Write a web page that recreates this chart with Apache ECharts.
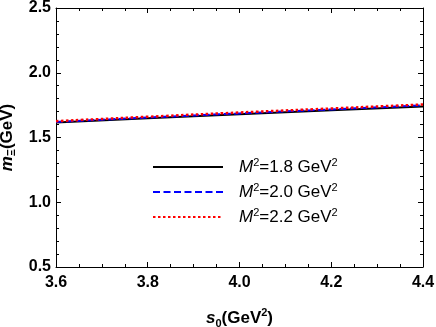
<!DOCTYPE html>
<html>
<head>
<meta charset="utf-8">
<script src="https://cdn.jsdelivr.net/npm/echarts@6/dist/echarts.min.js"></script>
<style>
html, body { margin: 0; padding: 0; background: #fff; }
#chart { width: 436px; height: 327px; }
</style>
</head>
<body>
<div id="chart"></div>
<script>
// s0 values (GeV^2)
const s0 = [3.6, 3.8, 4.0, 4.2, 4.4]
// m_Xi for each Borel mass
const m18 = [1.615, 1.648, 1.679, 1.710, 1.740]
const m20 = [1.620, 1.654, 1.686, 1.717, 1.748]
const m22 = [1.626, 1.660, 1.693, 1.724, 1.755]
const names = ['M2=1.8', 'M2=2.0', 'M2=2.2']
const labels = ['1.8', '2.0', '2.2']

const font = "'Liberation Sans', Arial, sans-serif"

function pairs (ys) {
  return s0.map((x, i) => [x, ys[i]])
}

const tickStyle = { inside: true, length: 5, lineStyle: { color: '#000', width: 1 } }
const minorStyle = { show: true, length: 3, lineStyle: { color: '#000', width: 1 } }

// rich styles for bold axis names
const nameRich = {
  i: { fontSize: 17, fontWeight: 'bold', fontStyle: 'italic', fontFamily: font, color: '#000', lineHeight: 22 },
  n: { fontSize: 17, fontWeight: 'bold', fontFamily: font, color: '#000', lineHeight: 22 },
  sub: { fontSize: 11, fontWeight: 'bold', fontFamily: font, color: '#000', lineHeight: 12, verticalAlign: 'bottom' },
  sup: { fontSize: 11, fontWeight: 'bold', fontFamily: font, color: '#000', lineHeight: 12, verticalAlign: 'top' }
}

let option = {
  animation: false,
  grid: { left: 56, right: 13, top: 8, bottom: 60, outerBoundsMode: 'none', containLabel: false },
  xAxis: [{
    type: 'value',
    min: 3.6,
    max: 4.4,
    interval: 0.2,
    axisLine: { lineStyle: { color: '#000', width: 1 } },
    axisTick: tickStyle,
    minorTick: Object.assign({ splitNumber: 4 }, minorStyle),
    splitLine: { show: false },
    axisLabel: {
      color: '#000', fontSize: 16, fontWeight: 'bold', fontFamily: font, margin: 8,
      formatter: v => v.toFixed(1)
    },
    name: '{i|s}{sub|0}{n|(GeV}{sup|2}{n|)}',
    nameLocation: 'middle',
    nameGap: 40,
    nameTextStyle: { rich: nameRich }
  }, {
    type: 'value',
    position: 'top',
    min: 3.6,
    max: 4.4,
    interval: 0.2,
    axisLine: { show: true, lineStyle: { color: '#000', width: 1 } },
    axisTick: tickStyle,
    minorTick: Object.assign({ splitNumber: 4 }, minorStyle),
    splitLine: { show: false },
    axisLabel: { show: false }
  }],
  yAxis: [{
    type: 'value',
    min: 0.5,
    max: 2.5,
    interval: 0.5,
    axisLine: { show: true, lineStyle: { color: '#000', width: 1 } },
    axisTick: tickStyle,
    minorTick: Object.assign({ splitNumber: 5 }, minorStyle),
    splitLine: { show: false },
    axisLabel: {
      color: '#000', fontSize: 16, fontWeight: 'bold', fontFamily: font, margin: 5,
      formatter: v => v.toFixed(1)
    },
    name: '{i|m}{sub|Ξ}{n|(GeV)}',
    nameLocation: 'middle',
    nameGap: 36,
    nameTextStyle: { rich: nameRich }
  }, {
    type: 'value',
    position: 'right',
    min: 0.5,
    max: 2.5,
    interval: 0.5,
    axisLine: { show: true, lineStyle: { color: '#000', width: 1 } },
    axisTick: tickStyle,
    minorTick: Object.assign({ splitNumber: 5 }, minorStyle),
    splitLine: { show: false },
    axisLabel: { show: false }
  }],
  legend: {
    orient: 'vertical',
    left: 147,
    top: 152,
    itemWidth: 70,
    itemHeight: 14,
    itemGap: 6.5,
    data: names,
    itemStyle: { opacity: 0 },
    formatter: name => {
      const k = names.indexOf(name)
      return '{i|M}{sup|2}{n|=' + labels[k] + ' GeV}{sup|2}'
    },
    textStyle: {
      padding: [0, 0, 0, 11],
      rich: {
        i: { fontSize: 17, fontStyle: 'italic', fontFamily: font, color: '#000', lineHeight: 20 },
        n: { fontSize: 17, fontFamily: font, color: '#000', lineHeight: 20 },
        sup: { fontSize: 11, fontFamily: font, color: '#000', lineHeight: 12, verticalAlign: 'top' }
      }
    }
  },
  series: [{
    name: names[0],
    type: 'line',
    data: pairs(m18),
    symbol: 'none',
    smooth: true,
    lineStyle: { color: '#000', width: 2, type: 'solid' },
    itemStyle: { color: '#000' }
  }, {
    name: names[1],
    type: 'line',
    data: pairs(m20),
    symbol: 'none',
    smooth: true,
    lineStyle: { color: '#0000ff', width: 2, type: [7, 3.5] },
    itemStyle: { color: '#0000ff' }
  }, {
    name: names[2],
    type: 'line',
    data: pairs(m22),
    symbol: 'none',
    smooth: true,
    lineStyle: { color: '#ff0000', width: 2.5, type: [2.5, 2.5] },
    itemStyle: { color: '#ff0000' }
  }]
}

var myChart = echarts.init(document.getElementById('chart'))
myChart.setOption(option)
</script>
</body>
</html>
